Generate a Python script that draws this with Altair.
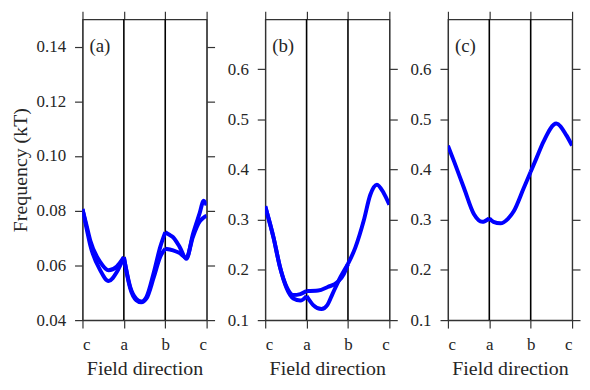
import json
import altair as alt
import pandas as pd

# ---------------- data ----------------
tick_names = ["c", "a", "b", "c"]
tick_pos = [0, 1, 2, 3]
guide_pos = [1, 2]
panel_letters = ["(a)", "(b)", "(c)"]

# Panel (a): two branches, each split into c-a, a-b, b-c segments
a1_ca_x = [0.0, 0.1, 0.19, 0.43, 0.63, 0.83, 1.0]
a1_ca_y = [0.0806, 0.0745, 0.0690, 0.0612, 0.0582, 0.0596, 0.0630]
a2_ca_x = [0.0, 0.1, 0.19, 0.43, 0.63, 0.83, 1.0]
a2_ca_y = [0.0806, 0.0735, 0.0673, 0.0582, 0.0543, 0.0576, 0.0630]
a1_ab_x = [1.0, 1.15, 1.3, 1.42, 1.55, 1.72, 1.88, 2.0]
a1_ab_y = [0.0630, 0.0523, 0.0478, 0.0468, 0.0486, 0.0572, 0.0668, 0.0721]
a2_ab_x = [1.0, 1.15, 1.3, 1.42, 1.55, 1.72, 1.88, 2.0]
a2_ab_y = [0.0630, 0.0518, 0.0473, 0.0465, 0.0480, 0.0555, 0.0632, 0.0661]
a1_bc_x = [2.0, 2.1, 2.19, 2.35, 2.51, 2.67, 2.83, 2.93, 3.0]
a1_bc_y = [0.0721, 0.0712, 0.0703, 0.0667, 0.0624, 0.0715, 0.0790, 0.0836, 0.0820]
a2_bc_x = [2.0, 2.19, 2.35, 2.51, 2.67, 2.83, 2.93, 3.0]
a2_bc_y = [0.0661, 0.0655, 0.0645, 0.0628, 0.0705, 0.0760, 0.0775, 0.0782]

# Panel (b)
b1_ca_x = [0.0, 0.2, 0.36, 0.52, 0.68, 0.85, 1.0]
b1_ca_y = [0.327, 0.265, 0.205, 0.166, 0.150, 0.152, 0.158]
b2_ca_x = [0.0, 0.2, 0.36, 0.52, 0.68, 0.85, 1.0]
b2_ca_y = [0.327, 0.265, 0.205, 0.163, 0.143, 0.139, 0.148]
b1_ab_x = [1.0, 1.28, 1.51, 1.75, 1.9, 2.0]
b1_ab_y = [0.158, 0.159, 0.166, 0.176, 0.192, 0.212]
b2_ab_x = [1.0, 1.16, 1.36, 1.5, 1.63, 1.82, 2.0]
b2_ab_y = [0.148, 0.130, 0.122, 0.130, 0.153, 0.186, 0.212]
b1_bc_x = [2.0, 2.18, 2.38, 2.54, 2.70, 2.86, 3.0]
b1_bc_y = [0.212, 0.245, 0.298, 0.350, 0.370, 0.354, 0.330]

# Panel (c)
c1_ca_x = [0.0, 0.15, 0.39, 0.63, 0.83, 1.0]
c1_ca_y = [0.448, 0.416, 0.363, 0.311, 0.296, 0.303]
c1_ab_x = [1.0, 1.1, 1.27, 1.45, 1.59, 1.83, 2.0]
c1_ab_y = [0.303, 0.296, 0.293, 0.302, 0.317, 0.363, 0.396]
c1_bc_x = [2.0, 2.14, 2.31, 2.62, 2.86, 3.0]
c1_bc_y = [0.396, 0.423, 0.456, 0.492, 0.469, 0.448]

ya_domain = [0.04, 0.15]
ya_ticks = [0.04, 0.06, 0.08, 0.10, 0.12, 0.14]
ybc_domain = [0.1, 0.7]
ybc_ticks = [0.1, 0.2, 0.3, 0.4, 0.5, 0.6]

FONT = "Liberation Serif"
TXT = "#262626"


def frame(segments):
    rows = []
    for name, xs, ys in segments:
        for x, y in zip(xs, ys):
            rows.append({"curve": name, "x": x, "y": y})
    return pd.DataFrame(rows)


label_expr = json.dumps(tick_names) + "[round(datum.value)]"


def panel(df, ydom, yticks, yfmt, ytitle, letter):
    xscale = alt.Scale(domain=[0, 3], nice=False, zero=False)
    yscale = alt.Scale(domain=ydom, nice=False, zero=False)
    lines = alt.Chart(df).mark_line(
        color="#0000ff", strokeWidth=4, interpolate="monotone", clip=True
    ).encode(
        x=alt.X("x:Q", scale=xscale,
                axis=alt.Axis(orient="bottom", values=tick_pos, labelExpr=label_expr,
                              title="Field direction", grid=False, labelPadding=9)),
        y=alt.Y("y:Q", scale=yscale,
                axis=alt.Axis(orient="left", values=yticks, format=yfmt,
                              title=ytitle, grid=False, labelPadding=9)),
        detail="curve:N",
    )
    rdf = pd.DataFrame({"x": guide_pos, "ylo": [ydom[0]] * len(guide_pos),
                        "yhi": [ydom[1]] * len(guide_pos)})
    rules = alt.Chart(rdf).mark_rule(color="black", strokeWidth=1.6).encode(
        x=alt.X("x:Q", scale=xscale,
                axis=alt.Axis(orient="top", values=tick_pos, labels=False, title="",
                              grid=False)),
        y=alt.Y("ylo:Q", scale=yscale,
                axis=alt.Axis(orient="right", values=yticks, labels=False, title="",
                              grid=False)),
        y2="yhi:Q",
    )
    text = alt.Chart(pd.DataFrame({"t": [letter]})).mark_text(
        align="left", baseline="middle", font=FONT, fontSize=19, color=TXT
    ).encode(x=alt.value(7), y=alt.value(27), text="t:N")
    return alt.layer(rules, lines, text).resolve_axis(x="independent", y="independent").properties(
        width=125, height=303
    )


dfa = frame([("1ca", a1_ca_x, a1_ca_y), ("2ca", a2_ca_x, a2_ca_y),
             ("1ab", a1_ab_x, a1_ab_y), ("2ab", a2_ab_x, a2_ab_y),
             ("1bc", a1_bc_x, a1_bc_y), ("2bc", a2_bc_x, a2_bc_y)])
dfb = frame([("1ca", b1_ca_x, b1_ca_y), ("2ca", b2_ca_x, b2_ca_y),
             ("1ab", b1_ab_x, b1_ab_y), ("2ab", b2_ab_x, b2_ab_y),
             ("1bc", b1_bc_x, b1_bc_y)])
dfc = frame([("1ca", c1_ca_x, c1_ca_y), ("1ab", c1_ab_x, c1_ab_y),
             ("1bc", c1_bc_x, c1_bc_y)])

pa = panel(dfa, ya_domain, ya_ticks, ".2f", "Frequency (kT)", panel_letters[0])
pb = panel(dfb, ybc_domain, ybc_ticks, ".1f", "", panel_letters[1])
pc = panel(dfc, ybc_domain, ybc_ticks, ".1f", "", panel_letters[2])

chart = alt.hconcat(pa, pb, pc, spacing=10).configure_view(
    stroke="#333333", strokeWidth=1.2
).configure_axis(
    labelFont=FONT, titleFont=FONT, labelFontSize=17, titleFontSize=20,
    labelColor=TXT, titleColor=TXT, titleFontWeight="normal",
    domainColor="#333333", domainWidth=1.2, tickColor="#333333", tickWidth=1.2,
    tickSize=8, titlePadding=6,
).properties(padding={"left": 1, "top": 0, "right": 0, "bottom": 0})

chart.save("out.html", embed_options={"renderer": "svg", "actions": False})
